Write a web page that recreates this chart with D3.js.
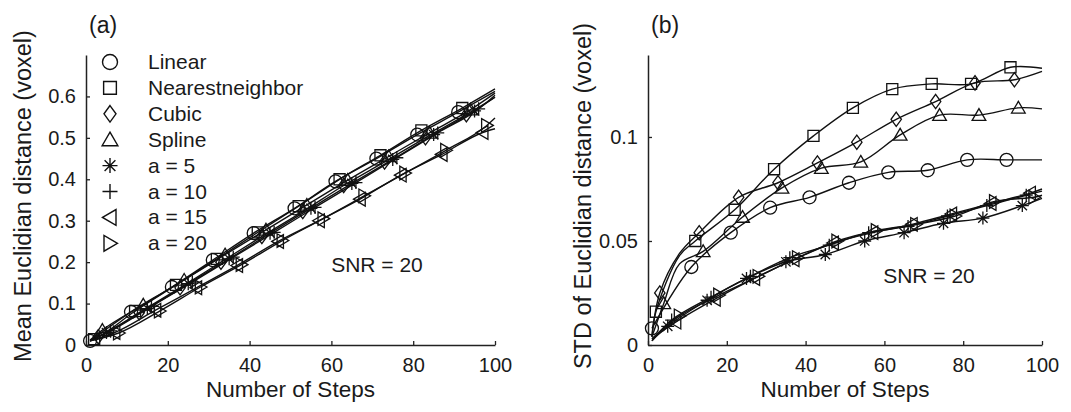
<!DOCTYPE html>
<html>
<head>
<meta charset="utf-8">
<script src="https://cdn.jsdelivr.net/npm/d3@7"></script>
<style>
  body { margin: 0; background: #fff; }
  text { font-family: "Liberation Sans", Arial, sans-serif; fill: #1a1a1a; }
</style>
</head>
<body>
<script>
// ---- data ----
const seriesNames = ["Linear", "Nearestneighbor", "Cubic", "Spline", "a = 5", "a = 10", "a = 15", "a = 20"];
const symbolTypes = ["circle", "square", "diamond", "triUp", "asterisk", "plus", "triLeft", "triRight"];
const markerOffsets = [1, 2, 3, 4, 5, 6, 7, 8];   // first marked step of each series
const markerEvery = 10;
const xTicks = [0, 20, 40, 60, 80, 100];

// (a) mean Euclidian distance: value at step 1, at the marked steps, at step 100
const meanStart = [0.010, 0.010, 0.011, 0.012, 0.010, 0.011, 0.010, 0.010];
const meanMarks = [
  [0.010, 0.080, 0.140, 0.205, 0.270, 0.330, 0.395, 0.450, 0.508, 0.562],
  [0.014, 0.082, 0.145, 0.208, 0.272, 0.335, 0.400, 0.458, 0.518, 0.572],
  [0.020, 0.078, 0.138, 0.200, 0.262, 0.322, 0.385, 0.442, 0.500, 0.556],
  [0.036, 0.097, 0.157, 0.218, 0.278, 0.338, 0.398, 0.455, 0.512, 0.568],
  [0.030, 0.088, 0.148, 0.208, 0.270, 0.330, 0.390, 0.448, 0.508, 0.565],
  [0.034, 0.093, 0.152, 0.212, 0.272, 0.332, 0.392, 0.452, 0.512, 0.570],
  [0.030, 0.084, 0.138, 0.192, 0.250, 0.300, 0.352, 0.410, 0.460, 0.513],
  [0.029, 0.082, 0.140, 0.194, 0.252, 0.305, 0.360, 0.415, 0.470, 0.530]
];
const meanEnd = [0.612, 0.618, 0.598, 0.608, 0.598, 0.603, 0.522, 0.548];
const meanYTicks = [0, 0.1, 0.2, 0.3, 0.4, 0.5, 0.6];

// (b) STD of Euclidian distance: value at step 1, around step 8 (null = none), marked steps, step 100
const stdStart = [0.008, 0.004, 0.004, 0.004, 0.002, 0.002, 0.003, 0.003];
const stdKnee = [null, 0.043, 0.044, 0.039, null, null, null, null];
const stdMarks = [
  [0.008, 0.0375, 0.054, 0.066, 0.071, 0.078, 0.083, 0.084, 0.089, 0.089],
  [0.016, 0.050, 0.065, 0.0845, 0.1005, 0.114, 0.123, 0.1255, 0.1255, 0.1335],
  [0.025, 0.054, 0.071, 0.078, 0.0875, 0.0975, 0.1085, 0.117, 0.126, 0.1275],
  [0.020, 0.045, 0.0615, 0.0755, 0.085, 0.088, 0.101, 0.1105, 0.1105, 0.114],
  [0.009, 0.0215, 0.032, 0.040, 0.0435, 0.050, 0.054, 0.0585, 0.061, 0.067],
  [0.012, 0.023, 0.033, 0.042, 0.048, 0.054, 0.057, 0.062, 0.067, 0.072],
  [0.011, 0.022, 0.032, 0.041, 0.049, 0.054, 0.058, 0.063, 0.068, 0.073],
  [0.014, 0.024, 0.033, 0.042, 0.050, 0.055, 0.058, 0.062, 0.069, 0.071]
];
const stdEnd = [0.089, 0.133, 0.1315, 0.1135, 0.0705, 0.074, 0.075, 0.072];
const stdYTicks = [0, 0.05, 0.1];

// ---- drawing ----
const W = 1071, H = 412;
const svg = d3.select("body").append("svg").attr("width", W).attr("height", H);
const ink = "#111";

function markerPath(type, s) {
  const h = s / 2;
  switch (type) {
    case "circle":  return `M${h},0A${h},${h} 0 1,1 ${-h},0A${h},${h} 0 1,1 ${h},0Z`;
    case "square":  { const q = h * 0.85; return `M${-q},${-q}H${q}V${q}H${-q}Z`; }
    case "diamond": { const w = h * 0.8, t = h * 1.1; return `M0,${-t}L${w},0L0,${t}L${-w},0Z`; }
    case "triUp":   return `M0,${-h}L${h * 1.05},${h * 0.8}L${-h * 1.05},${h * 0.8}Z`;
    case "triLeft": return `M${-h},0L${h * 0.8},${-h * 1.05}L${h * 0.8},${h * 1.05}Z`;
    case "triRight":return `M${h},0L${-h * 0.8},${-h * 1.05}L${-h * 0.8},${h * 1.05}Z`;
    case "plus":    return `M${-h},0H${h}M0,${-h}V${h}`;
    case "asterisk": {
      const d = h * 0.72;
      return `M${-h},0H${h}M0,${-h}V${h}M${-d},${-d}L${d},${d}M${-d},${d}L${d},${-d}`;
    }
  }
}

function seriesPoints(start, knee, marks, end, off) {
  const pts = [];
  if (off > 1) pts.push({ x: 1, y: start, m: false });
  marks.forEach((v, k) => {
    const sx = off + k * markerEvery;
    if (knee != null && k === 1) pts.push({ x: 8, y: knee, m: false });
    pts.push({ x: sx, y: v, m: true });
  });
  pts.push({ x: 100, y: end, m: false });
  return pts;
}

function drawPanel(cfg) {
  const x = d3.scaleLinear().domain([0, 100]).range([cfg.x0, cfg.x1]);
  const y = d3.scaleLinear().domain([0, cfg.yMax]).range([345, 55]);
  const g = svg.append("g");
  const fmt = d => String(+d.toFixed(3));

  const xAxis = g.append("g").attr("transform", "translate(0,345)")
    .call(d3.axisBottom(x).tickValues(xTicks).tickFormat(fmt)
      .tickSizeInner(-4).tickSizeOuter(0).tickPadding(13));
  const yAxis = g.append("g").attr("transform", `translate(${cfg.x0},0)`)
    .call(d3.axisLeft(y).tickValues(cfg.yTicks).tickFormat(fmt)
      .tickSizeInner(-4).tickSizeOuter(0).tickPadding(10));
  [xAxis, yAxis].forEach(a => {
    a.select(".domain").attr("stroke", "#222").attr("stroke-width", 1.5);
    a.selectAll(".tick line").attr("stroke", "#222").attr("stroke-width", 1.3);
    a.selectAll(".tick text").attr("font-size", 20).attr("fill", "#1a1a1a")
      .style("font-family", "'Liberation Sans', Arial, sans-serif");
  });

  const line = d3.line().x(d => x(d.x)).y(d => y(d.y)).curve(cfg.curve);
  seriesNames.forEach((name, i) => {
    const pts = seriesPoints(cfg.start[i], cfg.knee ? cfg.knee[i] : null, cfg.marks[i], cfg.end[i], markerOffsets[i]);
    g.append("path").datum(pts).attr("d", line)
      .attr("fill", "none").attr("stroke", ink).attr("stroke-width", 1.4);
    g.selectAll(null).data(pts.filter(p => p.m)).enter().append("path")
      .attr("transform", d => `translate(${x(d.x)},${y(d.y)})`)
      .attr("d", markerPath(symbolTypes[i], 13))
      .attr("fill", "none").attr("stroke", ink).attr("stroke-width", 1.3);
  });

  g.append("text").attr("x", cfg.x0 + 3).attr("y", 33).attr("font-size", 23).text(cfg.tag);
  g.append("text").attr("x", (cfg.x0 + cfg.x1) / 2).attr("y", 397)
    .attr("text-anchor", "middle").attr("font-size", 22.5).text("Number of Steps");
  g.append("text").attr("transform", `translate(${cfg.labelX},${196}) rotate(-90)`)
    .attr("text-anchor", "middle").attr("font-size", 23.5).text(cfg.yLabel);
  g.append("text").attr("x", cfg.snrX).attr("y", cfg.snrY)
    .attr("text-anchor", "middle").attr("font-size", 21).text("SNR = 20");
  return g;
}

const gA = drawPanel({
  x0: 86, x1: 495, yMax: 0.70, yTicks: meanYTicks, tag: "(a)",
  start: meanStart, marks: meanMarks, end: meanEnd, curve: d3.curveMonotoneX,
  yLabel: "Mean Euclidian distance (voxel)", labelX: 31, snrX: 377, snrY: 272
});
drawPanel({
  x0: 648, x1: 1042, yMax: 0.1394, yTicks: stdYTicks, tag: "(b)",
  start: stdStart, knee: stdKnee, marks: stdMarks, end: stdEnd, curve: d3.curveCatmullRom.alpha(0.5),
  yLabel: "STD of Euclidian distance (voxel)", labelX: 591, snrX: 929, snrY: 283
});

// legend in panel (a)
const legend = gA.append("g").selectAll("g").data(seriesNames).enter().append("g")
  .attr("transform", (d, i) => `translate(110,${62 + i * 25.9})`);
legend.append("path")
  .attr("d", (d, i) => markerPath(symbolTypes[i], 15))
  .attr("fill", "none").attr("stroke", ink).attr("stroke-width", 1.4);
legend.append("text").attr("x", 38).attr("y", 7).attr("font-size", 21).text(d => d);
</script>
</body>
</html>
